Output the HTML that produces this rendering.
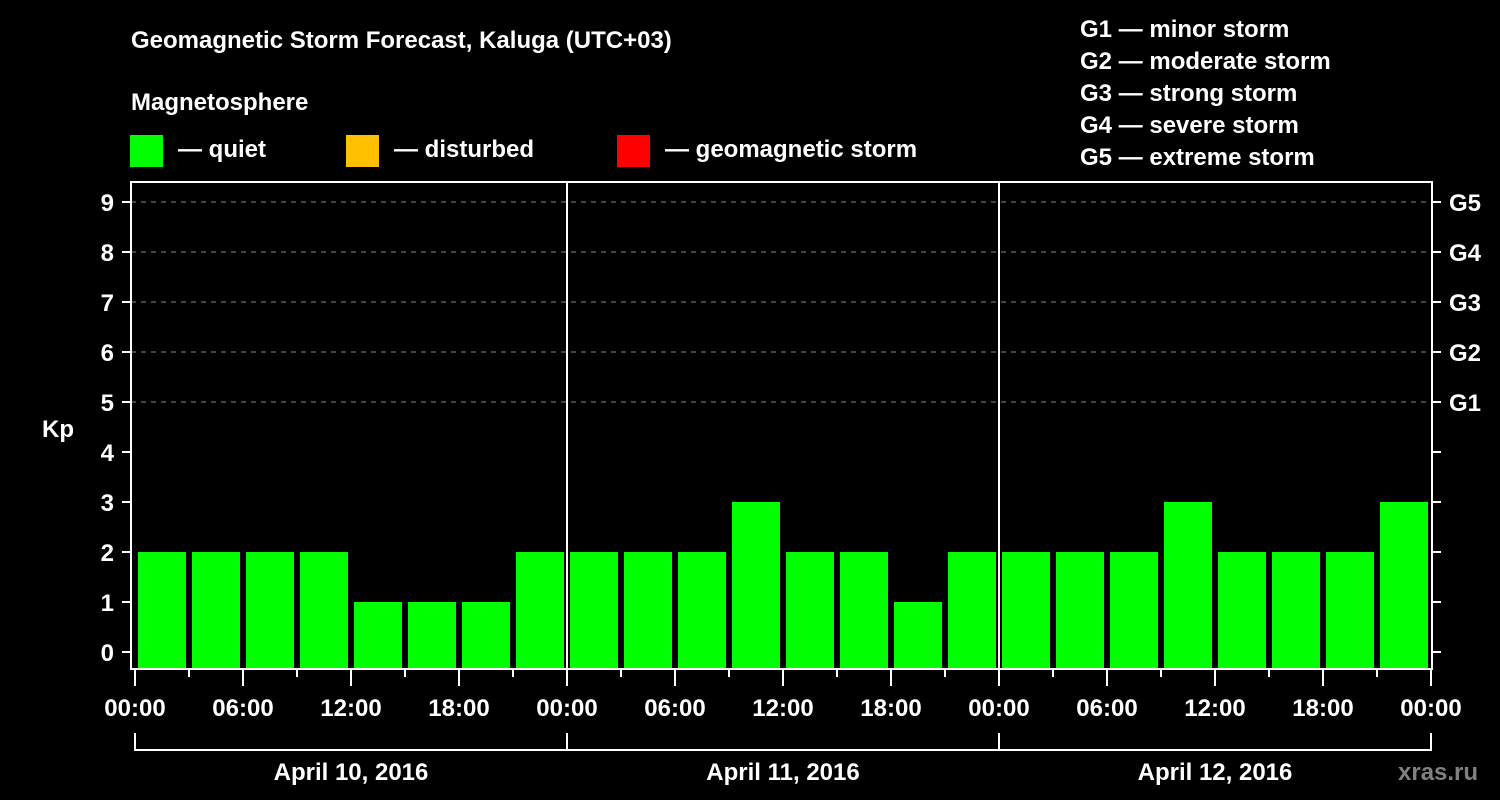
<!DOCTYPE html>
<html><head><meta charset="utf-8"><style>
html,body{margin:0;padding:0;background:#000;}
svg{display:block;font-family:"Liberation Sans",Arial,sans-serif;font-weight:bold;}
</style></head><body>
<svg id="chart" width="1500" height="800" viewBox="0 0 1500 800">
<rect x="0" y="0" width="1500" height="800" fill="#000"/>
<text x="131" y="48" fill="#fff" font-size="24">Geomagnetic Storm Forecast, Kaluga (UTC+03)</text>
<text x="131" y="110" fill="#fff" font-size="24">Magnetosphere</text>
<g><rect x="130" y="135" width="33" height="32" fill="#00ff00"/><text x="178" y="157" fill="#fff" font-size="24">— quiet</text></g>
<g><rect x="346" y="135" width="33" height="32" fill="#ffc000"/><text x="394" y="157" fill="#fff" font-size="24">— disturbed</text></g>
<g><rect x="617" y="135" width="33" height="32" fill="#ff0000"/><text x="665" y="157" fill="#fff" font-size="24">— geomagnetic storm</text></g>
<g fill="#fff" font-size="24">
<text x="1080" y="37">G1 — minor storm</text>
<text x="1080" y="69">G2 — moderate storm</text>
<text x="1080" y="101">G3 — strong storm</text>
<text x="1080" y="133">G4 — severe storm</text>
<text x="1080" y="165">G5 — extreme storm</text>
</g>
<text x="42" y="437" fill="#fff" font-size="24">Kp</text>
<text x="1398" y="780" fill="#808080" font-size="24">xras.ru</text>
<g id="plot"></g>
</svg>
<script>
const days = ["April 10, 2016", "April 11, 2016", "April 12, 2016"];
const kpValues = [2,2,2,2,1,1,1,2, 2,2,2,3,2,2,1,2, 2,2,2,3,2,2,2,3];
const yTicks = [0,1,2,3,4,5,6,7,8,9];
const gLevels = [5,6,7,8,9];
const gLabels = ["G1","G2","G3","G4","G5"];
const hourLabels = ["00:00","06:00","12:00","18:00"];

const NS = "http://www.w3.org/2000/svg";
const g = document.getElementById("plot");
const X0 = 135, DAYW = 432, SLOT = DAYW / 8;
const Y0 = 652, KPH = 50;
const L = 131, R = 1432, T = 182, B = 669;
const xs = i => X0 + i * SLOT;
const ys = v => Y0 - v * KPH;
function mk(tag, attrs) { const e = document.createElementNS(NS, tag); for (const k in attrs) e.setAttribute(k, attrs[k]); g.appendChild(e); return e; }
function color(v) { return v >= 5 ? "#ff0000" : v >= 4 ? "#ffc000" : "#00ff00"; }

// grid
gLevels.forEach(v => {
  const l = mk("line", {x1: L, x2: R, y1: ys(v), y2: ys(v), stroke: "#888", "stroke-width": 1, "stroke-dasharray": "5,5"});
  
  
});
// bars
kpValues.forEach((v, i) => {
  const r = mk("rect", {x: xs(i) + 3, y: ys(v), width: SLOT - 6, height: B - ys(v), fill: color(v)});
  
  
});
// frame
const fr = mk("rect", {x: L, y: T, width: R - L, height: B - T, fill: "none", stroke: "#fff", "stroke-width": 2});


// day separators
for (let d = 1; d < days.length; d++) {
  const l = mk("line", {x1: xs(d * 8), x2: xs(d * 8), y1: T, y2: B, stroke: "#fff", "stroke-width": 2});
  
  
}
// y ticks and labels
yTicks.forEach(v => {
  const t = mk("line", {x1: 122, x2: L, y1: ys(v), y2: ys(v), stroke: "#fff", "stroke-width": 2});
  
  
  const t2 = mk("line", {x1: R, x2: 1441, y1: ys(v), y2: ys(v), stroke: "#fff", "stroke-width": 2});
  
  
  const tx = mk("text", {x: 114, y: ys(v) + 9, fill: "#fff", "font-size": 24, "text-anchor": "end"});
  tx.textContent = v;
  
  
});
gLevels.forEach((v, i) => {
  const tx = mk("text", {x: 1449, y: ys(v) + 9, fill: "#fff", "font-size": 24});
  tx.textContent = gLabels[i];
  
  
});
// x ticks
for (let i = 0; i <= kpValues.length; i++) {
  const major = i % 2 === 0;
  const t = mk("line", {x1: xs(i), x2: xs(i), y1: B, y2: major ? 686 : 677, stroke: "#fff", "stroke-width": 2});
  
  
  if (major) {
    const tx = mk("text", {x: xs(i), y: 716, fill: "#fff", "font-size": 24, "text-anchor": "middle"});
    tx.textContent = hourLabels[(i / 2) % 4];
    
    
  }
}
// day brackets
days.forEach((d, k) => {
  const a = xs(k * 8), b = xs(k * 8 + 8);
  const p = mk("path", {d: `M${a},733 V750 H${b} V733`, fill: "none", stroke: "#fff", "stroke-width": 2});
  
  
  const tx = mk("text", {x: (a + b) / 2, y: 780, fill: "#fff", "font-size": 24, "text-anchor": "middle"});
  tx.textContent = d;
  
  
});
</script>
</body></html>
